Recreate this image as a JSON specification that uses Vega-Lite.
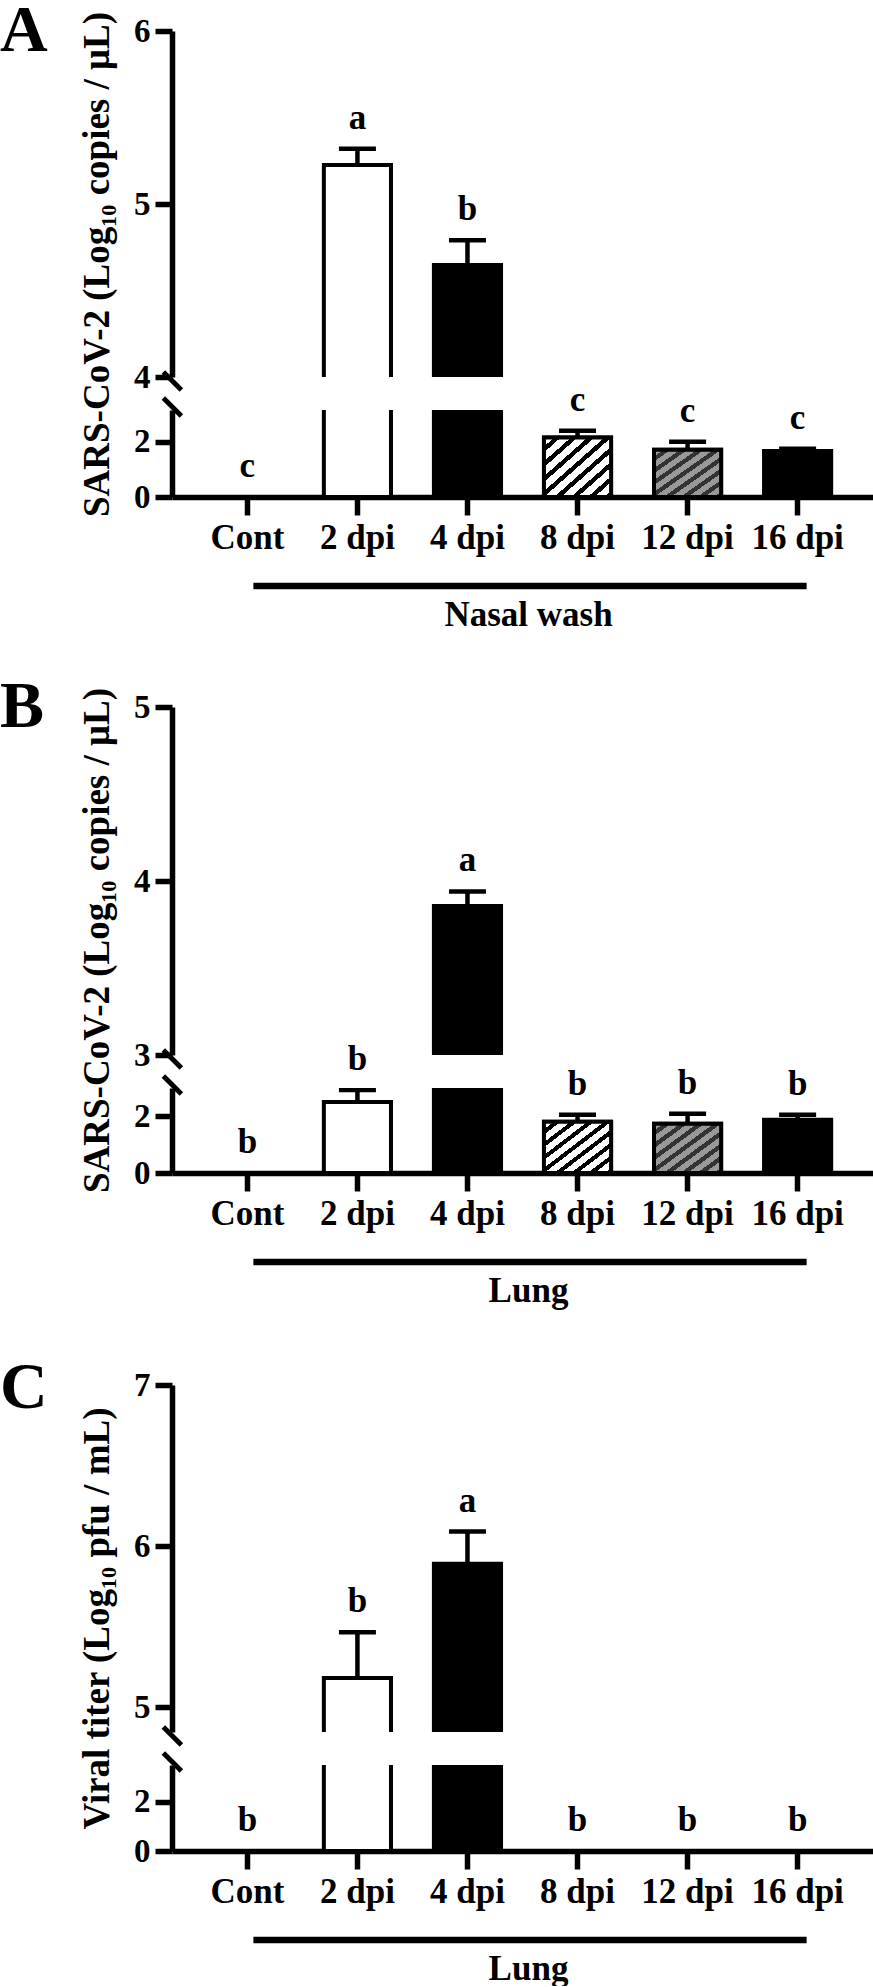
{
"$schema": "https://vega.github.io/schema/vega-lite/v6.json",
"background": "white",
"padding": {"left": 0, "top": -3, "right": 0, "bottom": 0},
"autosize": {"type": "pad"},
"datasets": {
"A": [
{"group": "Cont", "mean": 0, "hi": 0, "letter": "c"},
{"group": "2 dpi", "mean": 5.225, "hi": 5.32, "letter": "a"},
{"group": "4 dpi", "mean": 4.647, "hi": 4.79, "letter": "b"},
{"group": "8 dpi", "mean": 2.15, "hi": 2.4, "letter": "c"},
{"group": "12 dpi", "mean": 1.71, "hi": 2.0, "letter": "c"},
{"group": "16 dpi", "mean": 1.67, "hi": 1.75, "letter": "c"}
],
"B": [
{"group": "Cont", "mean": 0, "hi": 0, "letter": "b"},
{"group": "2 dpi", "mean": 2.51, "hi": 2.93, "letter": "b"},
{"group": "4 dpi", "mean": 3.856, "hi": 3.94, "letter": "a"},
{"group": "8 dpi", "mean": 1.81, "hi": 2.06, "letter": "b"},
{"group": "12 dpi", "mean": 1.74, "hi": 2.09, "letter": "b"},
{"group": "16 dpi", "mean": 1.88, "hi": 2.06, "letter": "b"}
],
"C": [
{"group": "Cont", "mean": 0, "hi": 0, "letter": "b"},
{"group": "2 dpi", "mean": 5.18, "hi": 5.465, "letter": "b"},
{"group": "4 dpi", "mean": 5.89, "hi": 6.09, "letter": "a"},
{"group": "8 dpi", "mean": 0, "hi": 0, "letter": "b"},
{"group": "12 dpi", "mean": 0, "hi": 0, "letter": "b"},
{"group": "16 dpi", "mean": 0, "hi": 0, "letter": "b"}
]
},
"bounds": "flush",
"spacing": 33,
"vconcat": [
{
"data": {"name": "A"},
"width": 701, "height": 346,
"title": {"text": "A"},
"encoding": {"x": {"field": "group", "type": "nominal", "scale": {"domain": ["Cont", "2 dpi", "4 dpi", "8 dpi", "12 dpi", "16 dpi"], "paddingInner": 0.39, "paddingOuter": 0.38}, "axis": null}},
"layer": [
{"mark": {"type": "bar", "clip": true, "stroke": "black", "strokeWidth": 4},
"encoding": {"y": {"field": "mean", "type": "quantitative", "title": "SARS-CoV-2 (Log₁₀ copies / μL)", "scale": {"domain": [4, 6], "nice": false, "zero": false}, "axis": {"tickCount": 2, "format": "d", "labelOverlap": false, "titleX": -75, "titleY": 233, "titleAlign": "center", "titleBaseline": "middle", "titleAngle": 270}},
"y2": {"datum": 0},
"fill": {"field": "group", "type": "nominal", "scale": {"domain": ["Cont", "2 dpi", "4 dpi", "8 dpi", "12 dpi", "16 dpi"], "range": ["white", "white", "black", "white", "#999999", "black"]}, "legend": null}}},
{"transform": [{"filter": "datum.hi > datum.mean"}], "mark": {"type": "rule", "clip": true, "strokeWidth": 4.5, "color": "black"},
"encoding": {"y": {"field": "mean", "type": "quantitative", "title": "SARS-CoV-2 (Log₁₀ copies / μL)"}, "y2": {"field": "hi"}}},
{"transform": [{"filter": "datum.hi > datum.mean"}], "mark": {"type": "tick", "clip": true, "size": 37, "thickness": 4.5, "color": "black", "opacity": 1},
"encoding": {"y": {"field": "hi", "type": "quantitative", "title": "SARS-CoV-2 (Log₁₀ copies / μL)"}}},
{"transform": [{"filter": "datum.hi >= 4"}], "mark": {"type": "text", "dy": -20, "baseline": "alphabetic", "fontSize": 35, "font": "Liberation Serif", "fontWeight": "bold", "color": "black"},
"encoding": {"y": {"field": "hi", "type": "quantitative", "title": "SARS-CoV-2 (Log₁₀ copies / μL)"}, "text": {"field": "letter"}}}
]
},
{
"data": {"name": "A"},
"width": 701, "height": 87,
"encoding": {"x": {"field": "group", "type": "nominal", "title": "Nasal wash", "scale": {"domain": ["Cont", "2 dpi", "4 dpi", "8 dpi", "12 dpi", "16 dpi"], "paddingInner": 0.39, "paddingOuter": 0.38}, "axis": {"titleX": 356}}},
"layer": [
{"mark": {"type": "bar", "clip": true, "stroke": "black", "strokeWidth": 4},
"encoding": {"y": {"field": "mean", "type": "quantitative", "title": null, "scale": {"domain": [0, 3.15], "nice": false, "zero": false}, "axis": {"values": [0, 2], "format": "d", "labelOverlap": false}},
"y2": {"datum": 0},
"fill": {"field": "group", "type": "nominal", "scale": {"domain": ["Cont", "2 dpi", "4 dpi", "8 dpi", "12 dpi", "16 dpi"], "range": ["white", "white", "black", "white", "#999999", "black"]}, "legend": null}}},
{"transform": [{"filter": "datum.group === '8 dpi'"}], "mark": {"type": "bar", "clip": true, "stroke": "black", "strokeWidth": 4,
"fill": {"gradient": "linear", "x1": 0, "y1": 0, "x2": 1, "y2": 1, "stops": [{"offset": 0, "color": "white"}, {"offset": 0.075, "color": "white"}, {"offset": 0.075, "color": "black"}, {"offset": 0.125, "color": "black"}, {"offset": 0.125, "color": "white"}, {"offset": 0.2, "color": "white"}, {"offset": 0.2, "color": "black"}, {"offset": 0.25, "color": "black"}, {"offset": 0.25, "color": "white"}, {"offset": 0.325, "color": "white"}, {"offset": 0.325, "color": "black"}, {"offset": 0.375, "color": "black"}, {"offset": 0.375, "color": "white"}, {"offset": 0.45, "color": "white"}, {"offset": 0.45, "color": "black"}, {"offset": 0.5, "color": "black"}, {"offset": 0.5, "color": "white"}, {"offset": 0.575, "color": "white"}, {"offset": 0.575, "color": "black"}, {"offset": 0.625, "color": "black"}, {"offset": 0.625, "color": "white"}, {"offset": 0.7, "color": "white"}, {"offset": 0.7, "color": "black"}, {"offset": 0.75, "color": "black"}, {"offset": 0.75, "color": "white"}, {"offset": 0.825, "color": "white"}, {"offset": 0.825, "color": "black"}, {"offset": 0.875, "color": "black"}, {"offset": 0.875, "color": "white"}, {"offset": 0.95, "color": "white"}, {"offset": 0.95, "color": "black"}, {"offset": 1, "color": "black"}]}},
"encoding": {"y": {"field": "mean", "type": "quantitative", "title": null}, "y2": {"datum": 0}}},
{"transform": [{"filter": "datum.group === '12 dpi'"}], "mark": {"type": "bar", "clip": true, "stroke": "black", "strokeWidth": 4,
"fill": {"gradient": "linear", "x1": 0, "y1": 0, "x2": 1, "y2": 1, "stops": [{"offset": 0, "color": "#999999"}, {"offset": 0.07, "color": "#999999"}, {"offset": 0.07, "color": "#333333"}, {"offset": 0.125, "color": "#333333"}, {"offset": 0.125, "color": "#999999"}, {"offset": 0.195, "color": "#999999"}, {"offset": 0.195, "color": "#333333"}, {"offset": 0.25, "color": "#333333"}, {"offset": 0.25, "color": "#999999"}, {"offset": 0.32, "color": "#999999"}, {"offset": 0.32, "color": "#333333"}, {"offset": 0.375, "color": "#333333"}, {"offset": 0.375, "color": "#999999"}, {"offset": 0.445, "color": "#999999"}, {"offset": 0.445, "color": "#333333"}, {"offset": 0.5, "color": "#333333"}, {"offset": 0.5, "color": "#999999"}, {"offset": 0.57, "color": "#999999"}, {"offset": 0.57, "color": "#333333"}, {"offset": 0.625, "color": "#333333"}, {"offset": 0.625, "color": "#999999"}, {"offset": 0.695, "color": "#999999"}, {"offset": 0.695, "color": "#333333"}, {"offset": 0.75, "color": "#333333"}, {"offset": 0.75, "color": "#999999"}, {"offset": 0.82, "color": "#999999"}, {"offset": 0.82, "color": "#333333"}, {"offset": 0.875, "color": "#333333"}, {"offset": 0.875, "color": "#999999"}, {"offset": 0.945, "color": "#999999"}, {"offset": 0.945, "color": "#333333"}, {"offset": 1, "color": "#333333"}]}},
"encoding": {"y": {"field": "mean", "type": "quantitative", "title": null}, "y2": {"datum": 0}}},
{"transform": [{"filter": "datum.hi > datum.mean"}], "mark": {"type": "rule", "clip": true, "strokeWidth": 4.5, "color": "black"},
"encoding": {"y": {"field": "mean", "type": "quantitative", "title": null}, "y2": {"field": "hi"}}},
{"transform": [{"filter": "datum.hi > datum.mean"}], "mark": {"type": "tick", "clip": true, "size": 37, "thickness": 4.5, "color": "black", "opacity": 1},
"encoding": {"y": {"field": "hi", "type": "quantitative", "title": null}}},
{"transform": [{"filter": "datum.hi < 4"}], "mark": {"type": "text", "dy": -20, "baseline": "alphabetic", "fontSize": 35, "font": "Liberation Serif", "fontWeight": "bold", "color": "black"},
"encoding": {"y": {"field": "hi", "type": "quantitative", "title": null}, "text": {"field": "letter"}}},
{"data": {"values": [{}]}, "mark": {"type": "rule", "strokeWidth": 6.5, "yOffset": 89, "xOffset": 6, "x2Offset": 9, "color": "black", "clip": false},
"encoding": {"x": {"datum": "Cont", "title": "Nasal wash"}, "x2": {"datum": "16 dpi"}, "y": {"datum": 0, "type": "quantitative", "title": null}}},
{"data": {"values": [{}]}, "mark": {"type": "rule", "strokeWidth": 5, "color": "black", "clip": false, "xOffset": -84, "x2Offset": -66, "yOffset": -12, "y2Offset": 6},
"encoding": {"x": {"datum": "Cont", "title": "Nasal wash"}, "x2": {"datum": "Cont"}, "y": {"datum": 3.15, "type": "quantitative", "title": null}, "y2": {"datum": 3.15}}},
{"data": {"values": [{}]}, "mark": {"type": "rule", "strokeWidth": 5, "color": "black", "clip": false, "xOffset": -84, "x2Offset": -66, "yOffset": -38, "y2Offset": -20},
"encoding": {"x": {"datum": "Cont", "title": "Nasal wash"}, "x2": {"datum": "Cont"}, "y": {"datum": 3.15, "type": "quantitative", "title": null}, "y2": {"datum": 3.15}}}
]
},
{"data": {"values": [{}]}, "width": 701, "height": 144, "mark": {"type": "point", "opacity": 0}},
{
"data": {"name": "B"},
"width": 701, "height": 348,
"title": {"text": "B"},
"encoding": {"x": {"field": "group", "type": "nominal", "scale": {"domain": ["Cont", "2 dpi", "4 dpi", "8 dpi", "12 dpi", "16 dpi"], "paddingInner": 0.39, "paddingOuter": 0.38}, "axis": null}},
"layer": [
{"mark": {"type": "bar", "clip": true, "stroke": "black", "strokeWidth": 4},
"encoding": {"y": {"field": "mean", "type": "quantitative", "title": "SARS-CoV-2 (Log₁₀ copies / μL)", "scale": {"domain": [3, 5], "nice": false, "zero": false}, "axis": {"values": [3, 4, 5], "labelExpr": "format(datum.value, 'd')", "labelOverlap": false, "titleX": -75, "titleY": 233, "titleAlign": "center", "titleBaseline": "middle", "titleAngle": 270}},
"y2": {"datum": 0},
"fill": {"field": "group", "type": "nominal", "scale": {"domain": ["Cont", "2 dpi", "4 dpi", "8 dpi", "12 dpi", "16 dpi"], "range": ["white", "white", "black", "white", "#999999", "black"]}, "legend": null}}},
{"transform": [{"filter": "datum.hi > datum.mean"}], "mark": {"type": "rule", "clip": true, "strokeWidth": 4.5, "color": "black"},
"encoding": {"y": {"field": "mean", "type": "quantitative", "title": "SARS-CoV-2 (Log₁₀ copies / μL)"}, "y2": {"field": "hi"}}},
{"transform": [{"filter": "datum.hi > datum.mean"}], "mark": {"type": "tick", "clip": true, "size": 37, "thickness": 4.5, "color": "black", "opacity": 1},
"encoding": {"y": {"field": "hi", "type": "quantitative", "title": "SARS-CoV-2 (Log₁₀ copies / μL)"}}},
{"transform": [{"filter": "datum.hi >= 3"}], "mark": {"type": "text", "dy": -20, "baseline": "alphabetic", "fontSize": 35, "font": "Liberation Serif", "fontWeight": "bold", "color": "black"},
"encoding": {"y": {"field": "hi", "type": "quantitative", "title": "SARS-CoV-2 (Log₁₀ copies / μL)"}, "text": {"field": "letter"}}}
]
},
{
"data": {"name": "B"},
"width": 701, "height": 85,
"encoding": {"x": {"field": "group", "type": "nominal", "title": "Lung", "scale": {"domain": ["Cont", "2 dpi", "4 dpi", "8 dpi", "12 dpi", "16 dpi"], "paddingInner": 0.39, "paddingOuter": 0.38}, "axis": {"titleX": 356}}},
"layer": [
{"mark": {"type": "bar", "clip": true, "stroke": "black", "strokeWidth": 4},
"encoding": {"y": {"field": "mean", "type": "quantitative", "title": null, "scale": {"domain": [0, 3], "nice": false, "zero": false}, "axis": {"values": [0, 2], "format": "d", "labelOverlap": false}},
"y2": {"datum": 0},
"fill": {"field": "group", "type": "nominal", "scale": {"domain": ["Cont", "2 dpi", "4 dpi", "8 dpi", "12 dpi", "16 dpi"], "range": ["white", "white", "black", "white", "#999999", "black"]}, "legend": null}}},
{"transform": [{"filter": "datum.group === '8 dpi'"}], "mark": {"type": "bar", "clip": true, "stroke": "black", "strokeWidth": 4,
"fill": {"gradient": "linear", "x1": 0, "y1": 0, "x2": 1, "y2": 1, "stops": [{"offset": 0, "color": "white"}, {"offset": 0.075, "color": "white"}, {"offset": 0.075, "color": "black"}, {"offset": 0.125, "color": "black"}, {"offset": 0.125, "color": "white"}, {"offset": 0.2, "color": "white"}, {"offset": 0.2, "color": "black"}, {"offset": 0.25, "color": "black"}, {"offset": 0.25, "color": "white"}, {"offset": 0.325, "color": "white"}, {"offset": 0.325, "color": "black"}, {"offset": 0.375, "color": "black"}, {"offset": 0.375, "color": "white"}, {"offset": 0.45, "color": "white"}, {"offset": 0.45, "color": "black"}, {"offset": 0.5, "color": "black"}, {"offset": 0.5, "color": "white"}, {"offset": 0.575, "color": "white"}, {"offset": 0.575, "color": "black"}, {"offset": 0.625, "color": "black"}, {"offset": 0.625, "color": "white"}, {"offset": 0.7, "color": "white"}, {"offset": 0.7, "color": "black"}, {"offset": 0.75, "color": "black"}, {"offset": 0.75, "color": "white"}, {"offset": 0.825, "color": "white"}, {"offset": 0.825, "color": "black"}, {"offset": 0.875, "color": "black"}, {"offset": 0.875, "color": "white"}, {"offset": 0.95, "color": "white"}, {"offset": 0.95, "color": "black"}, {"offset": 1, "color": "black"}]}},
"encoding": {"y": {"field": "mean", "type": "quantitative", "title": null}, "y2": {"datum": 0}}},
{"transform": [{"filter": "datum.group === '12 dpi'"}], "mark": {"type": "bar", "clip": true, "stroke": "black", "strokeWidth": 4,
"fill": {"gradient": "linear", "x1": 0, "y1": 0, "x2": 1, "y2": 1, "stops": [{"offset": 0, "color": "#999999"}, {"offset": 0.07, "color": "#999999"}, {"offset": 0.07, "color": "#333333"}, {"offset": 0.125, "color": "#333333"}, {"offset": 0.125, "color": "#999999"}, {"offset": 0.195, "color": "#999999"}, {"offset": 0.195, "color": "#333333"}, {"offset": 0.25, "color": "#333333"}, {"offset": 0.25, "color": "#999999"}, {"offset": 0.32, "color": "#999999"}, {"offset": 0.32, "color": "#333333"}, {"offset": 0.375, "color": "#333333"}, {"offset": 0.375, "color": "#999999"}, {"offset": 0.445, "color": "#999999"}, {"offset": 0.445, "color": "#333333"}, {"offset": 0.5, "color": "#333333"}, {"offset": 0.5, "color": "#999999"}, {"offset": 0.57, "color": "#999999"}, {"offset": 0.57, "color": "#333333"}, {"offset": 0.625, "color": "#333333"}, {"offset": 0.625, "color": "#999999"}, {"offset": 0.695, "color": "#999999"}, {"offset": 0.695, "color": "#333333"}, {"offset": 0.75, "color": "#333333"}, {"offset": 0.75, "color": "#999999"}, {"offset": 0.82, "color": "#999999"}, {"offset": 0.82, "color": "#333333"}, {"offset": 0.875, "color": "#333333"}, {"offset": 0.875, "color": "#999999"}, {"offset": 0.945, "color": "#999999"}, {"offset": 0.945, "color": "#333333"}, {"offset": 1, "color": "#333333"}]}},
"encoding": {"y": {"field": "mean", "type": "quantitative", "title": null}, "y2": {"datum": 0}}},
{"transform": [{"filter": "datum.hi > datum.mean"}], "mark": {"type": "rule", "clip": true, "strokeWidth": 4.5, "color": "black"},
"encoding": {"y": {"field": "mean", "type": "quantitative", "title": null}, "y2": {"field": "hi"}}},
{"transform": [{"filter": "datum.hi > datum.mean"}], "mark": {"type": "tick", "clip": true, "size": 37, "thickness": 4.5, "color": "black", "opacity": 1},
"encoding": {"y": {"field": "hi", "type": "quantitative", "title": null}}},
{"transform": [{"filter": "datum.hi < 3"}], "mark": {"type": "text", "dy": -20, "baseline": "alphabetic", "fontSize": 35, "font": "Liberation Serif", "fontWeight": "bold", "color": "black"},
"encoding": {"y": {"field": "hi", "type": "quantitative", "title": null}, "text": {"field": "letter"}}},
{"data": {"values": [{}]}, "mark": {"type": "rule", "strokeWidth": 6.5, "yOffset": 89, "xOffset": 6, "x2Offset": 9, "color": "black", "clip": false},
"encoding": {"x": {"datum": "Cont", "title": "Lung"}, "x2": {"datum": "16 dpi"}, "y": {"datum": 0, "type": "quantitative", "title": null}}},
{"data": {"values": [{}]}, "mark": {"type": "rule", "strokeWidth": 5, "color": "black", "clip": false, "xOffset": -84, "x2Offset": -66, "yOffset": -12, "y2Offset": 6},
"encoding": {"x": {"datum": "Cont", "title": "Lung"}, "x2": {"datum": "Cont"}, "y": {"datum": 3, "type": "quantitative", "title": null}, "y2": {"datum": 3}}},
{"data": {"values": [{}]}, "mark": {"type": "rule", "strokeWidth": 5, "color": "black", "clip": false, "xOffset": -84, "x2Offset": -66, "yOffset": -38, "y2Offset": -20},
"encoding": {"x": {"datum": "Cont", "title": "Lung"}, "x2": {"datum": "Cont"}, "y": {"datum": 3, "type": "quantitative", "title": null}, "y2": {"datum": 3}}}
]
},
{"data": {"values": [{}]}, "width": 701, "height": 146, "mark": {"type": "point", "opacity": 0}},
{
"data": {"name": "C"},
"width": 701, "height": 347,
"title": {"text": "C"},
"encoding": {"x": {"field": "group", "type": "nominal", "scale": {"domain": ["Cont", "2 dpi", "4 dpi", "8 dpi", "12 dpi", "16 dpi"], "paddingInner": 0.39, "paddingOuter": 0.38}, "axis": null}},
"layer": [
{"mark": {"type": "bar", "clip": true, "stroke": "black", "strokeWidth": 4},
"encoding": {"y": {"field": "mean", "type": "quantitative", "title": "Viral titer (Log₁₀ pfu / mL)", "scale": {"domain": [4.845, 7], "nice": false, "zero": false}, "axis": {"values": [5, 6, 7], "format": "d", "labelOverlap": false, "titleX": -75, "titleY": 233, "titleAlign": "center", "titleBaseline": "middle", "titleAngle": 270}},
"y2": {"datum": 0},
"fill": {"field": "group", "type": "nominal", "scale": {"domain": ["Cont", "2 dpi", "4 dpi", "8 dpi", "12 dpi", "16 dpi"], "range": ["white", "white", "black", "white", "#999999", "black"]}, "legend": null}}},
{"transform": [{"filter": "datum.hi > datum.mean"}], "mark": {"type": "rule", "clip": true, "strokeWidth": 4.5, "color": "black"},
"encoding": {"y": {"field": "mean", "type": "quantitative", "title": "Viral titer (Log₁₀ pfu / mL)"}, "y2": {"field": "hi"}}},
{"transform": [{"filter": "datum.hi > datum.mean"}], "mark": {"type": "tick", "clip": true, "size": 37, "thickness": 4.5, "color": "black", "opacity": 1},
"encoding": {"y": {"field": "hi", "type": "quantitative", "title": "Viral titer (Log₁₀ pfu / mL)"}}},
{"transform": [{"filter": "datum.hi >= 4.845"}], "mark": {"type": "text", "dy": -20, "baseline": "alphabetic", "fontSize": 35, "font": "Liberation Serif", "fontWeight": "bold", "color": "black"},
"encoding": {"y": {"field": "hi", "type": "quantitative", "title": "Viral titer (Log₁₀ pfu / mL)"}, "text": {"field": "letter"}}}
]
},
{
"data": {"name": "C"},
"width": 701, "height": 86,
"encoding": {"x": {"field": "group", "type": "nominal", "title": "Lung", "scale": {"domain": ["Cont", "2 dpi", "4 dpi", "8 dpi", "12 dpi", "16 dpi"], "paddingInner": 0.39, "paddingOuter": 0.38}, "axis": {"titleX": 356}}},
"layer": [
{"mark": {"type": "bar", "clip": true, "stroke": "black", "strokeWidth": 4},
"encoding": {"y": {"field": "mean", "type": "quantitative", "title": null, "scale": {"domain": [0, 3.5], "nice": false, "zero": false}, "axis": {"values": [0, 2], "format": "d", "labelOverlap": false}},
"y2": {"datum": 0},
"fill": {"field": "group", "type": "nominal", "scale": {"domain": ["Cont", "2 dpi", "4 dpi", "8 dpi", "12 dpi", "16 dpi"], "range": ["white", "white", "black", "white", "#999999", "black"]}, "legend": null}}},
{"transform": [{"filter": "datum.hi < 4.845"}], "mark": {"type": "text", "dy": -20, "baseline": "alphabetic", "fontSize": 35, "font": "Liberation Serif", "fontWeight": "bold", "color": "black"},
"encoding": {"y": {"field": "hi", "type": "quantitative", "title": null}, "text": {"field": "letter"}}},
{"data": {"values": [{}]}, "mark": {"type": "rule", "strokeWidth": 6.5, "yOffset": 89, "xOffset": 6, "x2Offset": 9, "color": "black", "clip": false},
"encoding": {"x": {"datum": "Cont", "title": "Lung"}, "x2": {"datum": "16 dpi"}, "y": {"datum": 0, "type": "quantitative", "title": null}}},
{"data": {"values": [{}]}, "mark": {"type": "rule", "strokeWidth": 5, "color": "black", "clip": false, "xOffset": -84, "x2Offset": -66, "yOffset": -12, "y2Offset": 6},
"encoding": {"x": {"datum": "Cont", "title": "Lung"}, "x2": {"datum": "Cont"}, "y": {"datum": 3.5, "type": "quantitative", "title": null}, "y2": {"datum": 3.5}}},
{"data": {"values": [{}]}, "mark": {"type": "rule", "strokeWidth": 5, "color": "black", "clip": false, "xOffset": -84, "x2Offset": -66, "yOffset": -38, "y2Offset": -20},
"encoding": {"x": {"datum": "Cont", "title": "Lung"}, "x2": {"datum": "Cont"}, "y": {"datum": 3.5, "type": "quantitative", "title": null}, "y2": {"datum": 3.5}}}
]
}
],
"config": {
"view": {"stroke": null},
"font": "Liberation Serif",
"title": {"font": "Liberation Serif", "fontSize": 66, "fontWeight": "bold", "color": "black", "anchor": "start", "frame": "group", "offset": 0, "dx": -172, "dy": 57},
"axis": {"domainColor": "black", "domainWidth": 5.5, "tickColor": "black", "tickWidth": 5.5, "labelFont": "Liberation Serif", "labelFontWeight": "bold", "labelColor": "black", "titleFont": "Liberation Serif", "titleFontWeight": "bold", "titleColor": "black", "grid": false, "zindex": 1},
"axisY": {"labelFontSize": 33, "tickSize": 17, "labelPadding": 5, "titleFontSize": 37},
"axisX": {"labelFontSize": 35, "tickSize": 18, "labelPadding": 5, "labelAngle": 0, "titleFontSize": 35, "titlePadding": 42}
}
}
